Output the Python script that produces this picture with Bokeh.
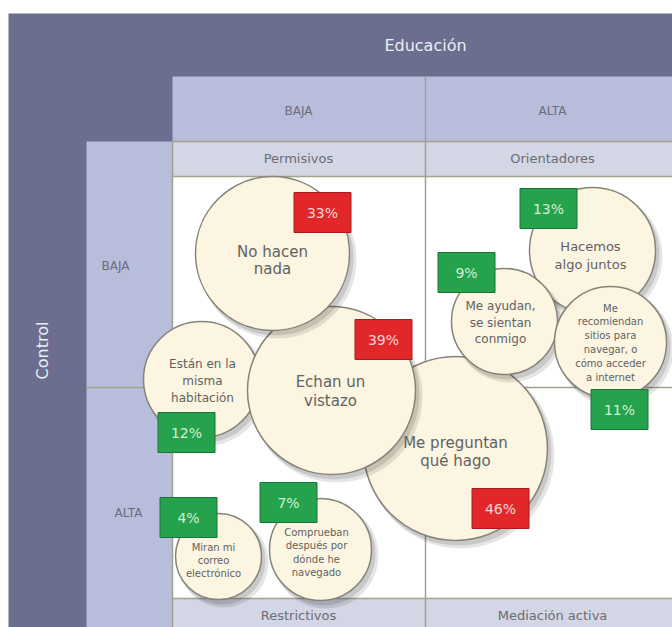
from bokeh.plotting import figure
from bokeh.models import Range1d, ColumnDataSource
from bokeh.core.properties import value
from bokeh.embed import file_html
from bokeh.resources import INLINE

# ---------------- data ----------------
titulo_x = "Educación"
titulo_y = "Control"
niveles_educacion = ["BAJA", "ALTA"]
niveles_control = ["BAJA", "ALTA"]
estilos_arriba = ["Permisivos", "Orientadores"]
estilos_abajo = ["Restrictivos", "Mediación activa"]

actividades = [
    "Me preguntan\nqué hago",
    "Están en la\nmisma\nhabitación",
    "Echan un\nvistazo",
    "No hacen\nnada",
    "Hacemos\nalgo juntos",
    "Me ayudan,\nse sientan\nconmigo",
    "Me\nrecomiendan\nsitios para\nnavegar, o\ncómo acceder\na internet",
    "Miran mi\ncorreo\nelectrónico",
    "Comprueban\ndespués por\ndónde he\nnavegado",
]
porcentajes = [46, 12, 39, 33, 13, 9, 11, 4, 7]

# ---------------- layout (page pixel coordinates) ----------------
circ_x = [455, 201, 331, 272, 592, 504, 610, 218, 320]
circ_y = [448, 379, 390, 253, 250, 321, 342, 556, 549]
circ_r = [92, 58, 84, 77, 63, 53, 56, 43, 51]
txt_x = [455, 202, 330, 272, 590, 500, 610, 213, 316]
txt_y = [451, 380, 391, 260, 255, 322, 342, 560, 552]
txt_size = [15, 12, 15, 15, 13, 12, 10, 10, 10]
txt_step = [18, 17, 19, 17, 18, 16.5, 13.8, 13, 13.5]
box_x = [500, 186, 383, 322, 548, 466, 619, 188, 288]
box_y = [508, 432, 339, 212, 208, 272, 409, 517, 502]
BOX_W, BOX_H = 57, 40

DARK = "#6b6e8e"
LIGHT = "#b9bddc"
PALE = "#d3d6e4"
LINE = "#a3a18c"
CREAM = "#fbf5e1"
EDGE = "#86837a"
RED = "#e2272a"
GREEN = "#25a24c"
FONT = value("DejaVu Sans")

p = figure(width=672, height=627, output_backend="svg", toolbar_location=None,
           x_range=Range1d(0, 672), y_range=Range1d(627, 0),
           min_border=0, outline_line_color=None,
           background_fill_color="white", border_fill_color="white")
p.axis.visible = False
p.grid.visible = False

# panels
p.quad(left=[8], right=[672], top=[13], bottom=[627], fill_color=DARK, line_color=None)
p.quad(left=[172], right=[672], top=[76], bottom=[141], fill_color=LIGHT, line_color=None)
p.quad(left=[86], right=[172], top=[141], bottom=[627], fill_color=LIGHT, line_color=None)
p.quad(left=[172, 172], right=[672, 672], top=[141, 598], bottom=[176, 627],
       fill_color=PALE, line_color=None)
p.quad(left=[172], right=[672], top=[176], bottom=[598], fill_color="white", line_color=None)

# grid lines
p.segment(x0=[172, 172, 172, 425, 172, 86],
          y0=[141, 176, 598, 76, 141, 387],
          x1=[672, 672, 672, 425, 172, 672],
          y1=[141, 176, 598, 627, 627, 387],
          line_color=LINE, line_width=1.5)

# header texts
p.text(x=[425], y=[45], text=[titulo_x], text_font=FONT, text_font_size="16px",
       text_color="#eceef6", text_align="center", text_baseline="middle")
p.text(x=[42], y=[350], text=[titulo_y], text_font=FONT, text_font_size="16px",
       text_color="#eceef6", text_align="center", text_baseline="middle", angle=1.5708)
p.text(x=[298, 552], y=[110, 110], text=niveles_educacion, text_font=FONT,
       text_font_size="12px", text_color="#6c6c7c", text_align="center", text_baseline="middle")
p.text(x=[115, 128], y=[265, 512], text=niveles_control, text_font=FONT,
       text_font_size="12px", text_color="#6c6c7c", text_align="center", text_baseline="middle")
p.text(x=[298, 552], y=[158, 158], text=estilos_arriba, text_font=FONT,
       text_font_size="13px", text_color="#6c6c74", text_align="center", text_baseline="middle")
p.text(x=[298, 552], y=[615, 615], text=estilos_abajo, text_font=FONT,
       text_font_size="13px", text_color="#6c6c74", text_align="center", text_baseline="middle")

# bubbles (each with its own shadow, drawn in order)
for i in range(len(actividades)):
    cx, cy, r = circ_x[i], circ_y[i], circ_r[i]
    p.circle(x=[cx + 5], y=[cy + 6], radius=r + 2, fill_color="#000000",
             fill_alpha=0.10, line_color=None)
    p.circle(x=[cx + 3], y=[cy + 4], radius=r + 1, fill_color="#000000",
             fill_alpha=0.12, line_color=None)
    p.circle(x=[cx], y=[cy], radius=r, fill_color=CREAM, line_color=EDGE, line_width=1.5)

# bubble texts (one line per entry)
lx, ly, lt, ls = [], [], [], []
for i, a in enumerate(actividades):
    lines = a.split("\n")
    n = len(lines)
    for j, t in enumerate(lines):
        lx.append(txt_x[i])
        ly.append(txt_y[i] + (j - (n - 1) / 2) * txt_step[i])
        lt.append(t)
        ls.append(f"{txt_size[i]}px")
p.text(x="x", y="y", text="t", text_font_size="s",
       source=ColumnDataSource(dict(x=lx, y=ly, t=lt, s=ls)),
       text_font=FONT, text_color="#626262", text_align="center", text_baseline="middle")

# percentage boxes
cols = [RED if v >= 30 else GREEN for v in porcentajes]
edges = ["#a81c1f" if v >= 30 else "#1b7438" for v in porcentajes]
tcols = ["#f6d6d6" if v >= 30 else "#d3efd5" for v in porcentajes]
src = ColumnDataSource(dict(x=box_x, y=box_y, c=cols, e=edges, tc=tcols,
                            t=[f"{v}%" for v in porcentajes]))
p.rect(x="x", y="y", width=BOX_W, height=BOX_H, fill_color="c", line_color="e",
       line_width=1, source=src)
p.text(x="x", y="y", text="t", text_color="tc", source=src, text_font=FONT,
       text_font_size="14px", text_align="center", text_baseline="middle")

open("out.html", "w").write(file_html(p, INLINE))
